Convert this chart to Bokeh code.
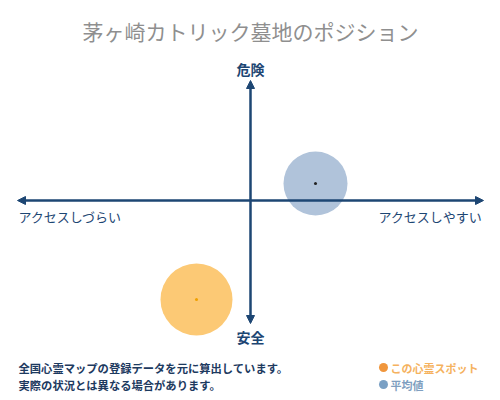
from bokeh.plotting import figure
from bokeh.models import Range1d, Arrow, NormalHead, ColumnDataSource
from bokeh.core.properties import value
from bokeh.embed import file_html
from bokeh.resources import INLINE

# --- data (chart units: centre of the cross is 0,0) ---
series_names = ["この心霊スポット", "平均値"]
access_score = [-54, 65]      # + = アクセスしやすい
danger_score = [-99, 17]      # + = 危険
bubble_size = [36, 32]

title_text = "茅ヶ崎カトリック墓地のポジション"
axis_top = "危険"
axis_bottom = "安全"
axis_left = "アクセスしづらい"
axis_right = "アクセスしやすい"
notes = ["全国心霊マップの登録データを元に算出しています。", "実際の状況とは異なる場合があります。"]

x_extent = [-233, 233]
y_extent = [-123, 120]

FONT = value("Noto Sans CJK JP")
NAVY = "#1d4673"
fills = ["#fcc975", "#b0c3da"]
dot_colors = ["#f0a000", "#222222"]

p = figure(width=500, height=400, output_backend="svg", toolbar_location=None,
           x_range=Range1d(-250, 250), y_range=Range1d(-200, 200), min_border=0)
p.axis.visible = False
p.grid.visible = False
p.outline_line_color = None
p.background_fill_color = "white"
p.border_fill_color = "white"

# axes arrows
p.add_layout(Arrow(x_start=x_extent[0], y_start=0, x_end=x_extent[1], y_end=0,
                   line_color=NAVY, line_width=2.5,
                   start=NormalHead(size=8, fill_color=NAVY, line_color=NAVY),
                   end=NormalHead(size=8, fill_color=NAVY, line_color=NAVY)))
p.add_layout(Arrow(x_start=0, y_start=y_extent[0], x_end=0, y_end=y_extent[1],
                   line_color=NAVY, line_width=2.5,
                   start=NormalHead(size=8, fill_color=NAVY, line_color=NAVY),
                   end=NormalHead(size=8, fill_color=NAVY, line_color=NAVY)))

src = ColumnDataSource(dict(x=access_score, y=danger_score, r=bubble_size,
                            fill=fills, dot=dot_colors))
p.circle(x="x", y="y", radius="r", fill_color="fill", line_color=None, source=src)
p.scatter(x="x", y="y", size=3, fill_color="dot", line_color=None, source=src)

# texts
p.text(x=[0], y=[170], text=[title_text], text_font=FONT, text_font_size="21px",
       text_color="#8f8f8f", text_align="center", text_baseline="middle")
p.text(x=[0], y=[132], text=[axis_top], text_font=FONT, text_font_size="14px",
       text_font_style="bold", text_color=NAVY, text_align="center", text_baseline="middle")
p.text(x=[0], y=[-136], text=[axis_bottom], text_font=FONT, text_font_size="14px",
       text_font_style="bold", text_color=NAVY, text_align="center", text_baseline="middle")
p.text(x=[-232], y=[-16], text=[axis_left], text_font=FONT, text_font_size="13px",
       text_color=NAVY, text_align="left", text_baseline="middle")
p.text(x=[232], y=[-16], text=[axis_right], text_font=FONT, text_font_size="13px",
       text_color=NAVY, text_align="right", text_baseline="middle")
p.text(x=[-232, -232], y=[-167, -184], text=notes, text_font=FONT, text_font_size="11.3px",
       text_font_style="bold", text_color="#1d3a5f", text_align="left", text_baseline="middle")

# legend
p.scatter(x=[133, 133], y=[-167, -184], size=9, fill_color=["#f0963c", "#7aa0c4"],
          line_color=None)
p.text(x=[140, 140], y=[-167, -184], text=series_names, text_font=FONT,
       text_font_size="11px", text_font_style="bold",
       text_color=["#f5b25e", "#7f9fc0"], text_align="left", text_baseline="middle")

open("out.html", "w").write(file_html(p, INLINE))
